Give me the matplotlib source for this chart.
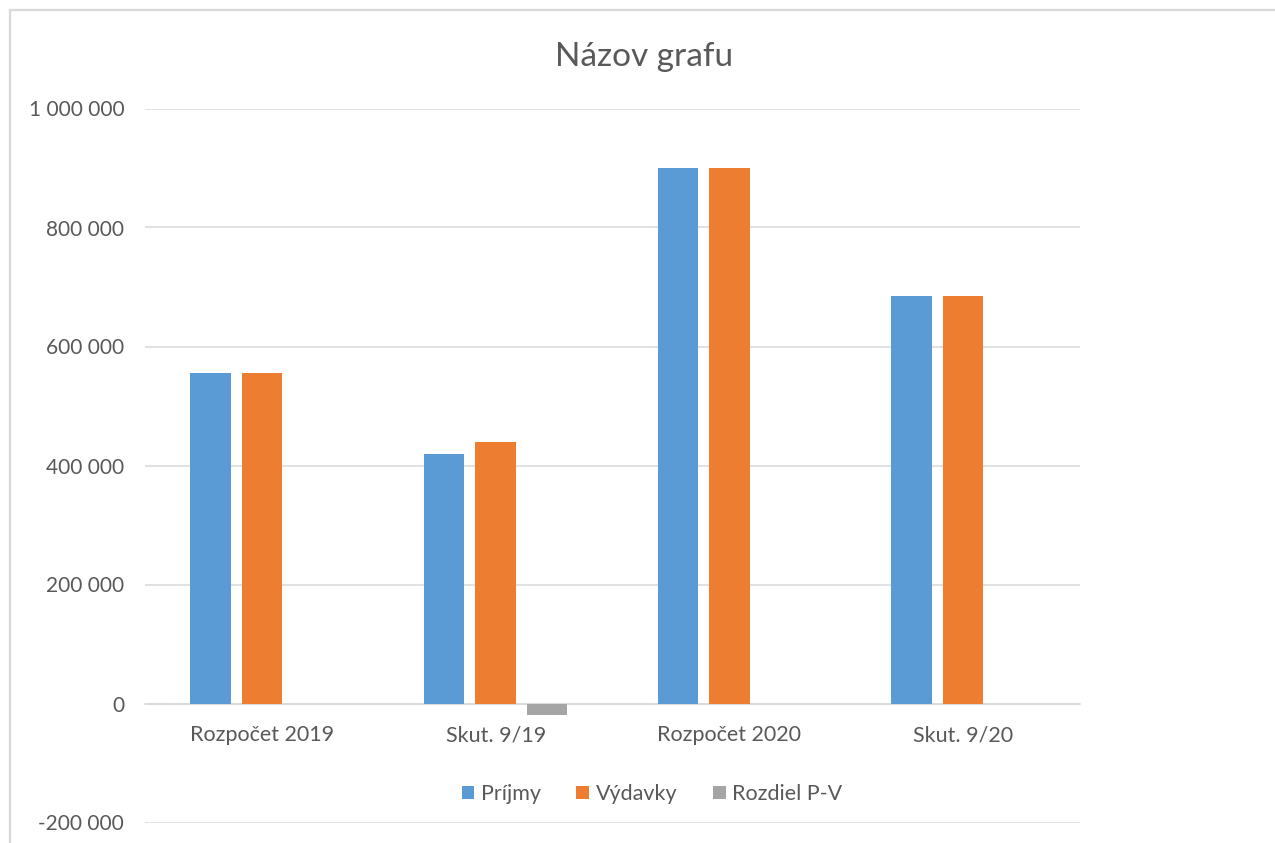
import matplotlib
matplotlib.use("Agg")
import matplotlib.pyplot as plt
import numpy as np
from matplotlib.lines import Line2D

categories = ["Rozpočet 2019", "Skut. 9/19", "Rozpočet 2020", "Skut. 9/20"]
series_names = ["Príjmy", "Výdavky", "Rozdiel P-V"]
prijmy = [556000, 420000, 900500, 685000]
vydavky = [556000, 439500, 900500, 685000]
rozdiel = [0, -19500, 0, 0]
yticks = [-200000, 0, 200000, 400000, 600000, 800000, 1000000]
ytick_labels = ["-200 000", "0", "200 000", "400 000", "600 000", "800 000", "1 000 000"]

colors = ["#5B9BD5", "#ED7D31", "#A5A5A5"]
text_color = "#595959"
grid_color = "#D9D9D9"

plt.rcParams['font.family'] = ['Lato', 'DejaVu Sans']

fig = plt.figure(figsize=(12.75, 8.43), dpi=100)
ax = fig.add_axes([145/1275, 1-822.5/843, (1080-145)/1275, (822.5-108.5)/843])

x = np.arange(len(categories))
w = 0.173
off = 0.2205
for i, (vals, name) in enumerate(zip([prijmy, vydavky, rozdiel], series_names)):
    ax.bar(x + (i-1)*off, vals, width=w, color=colors[i], label=name,
           linewidth=0, zorder=3)

ax.set_xlim(-0.5, len(categories)-0.5)
ax.set_ylim(-200000, 1000000)
ax.set_yticks(yticks)
ax.set_yticklabels(ytick_labels)
ax.yaxis.grid(True, color=grid_color, linewidth=1.1, zorder=0)
ax.set_axisbelow(True)
for s in ["top", "right", "left"]:
    ax.spines[s].set_visible(False)
ax.spines["bottom"].set_position(("data", 0))
ax.spines["bottom"].set_color(grid_color)
ax.spines["bottom"].set_linewidth(1.1)
ax.set_xticks(x)
ax.set_xticklabels(categories)
ax.tick_params(axis="x", length=0, pad=15.5, labelsize=15.5, labelcolor=text_color)
ax.tick_params(axis="y", length=0, pad=15, labelsize=15, labelcolor=text_color)

fig.text(644/1275, 1-57/843, "Názov grafu", ha="center", va="center",
         fontsize=24, color=text_color)

handles, labels = ax.get_legend_handles_labels()
leg = fig.legend(handles, labels, loc="center", bbox_to_anchor=(652/1275, 1-794/843),
                 ncol=3, frameon=False, fontsize=15.5, handlelength=0.6, handleheight=0.6,
                 handletextpad=0.3, columnspacing=1.65, labelcolor=text_color)

# chart frame
fig.add_artist(Line2D([10/1275, 10/1275], [0, 1-10/843], color=grid_color, linewidth=1.6,
                      transform=fig.transFigure))
fig.add_artist(Line2D([10/1275, 1], [1-10/843, 1-10/843], color=grid_color, linewidth=1.6,
                      transform=fig.transFigure))

fig.savefig("out.png", dpi=100, facecolor="white")
